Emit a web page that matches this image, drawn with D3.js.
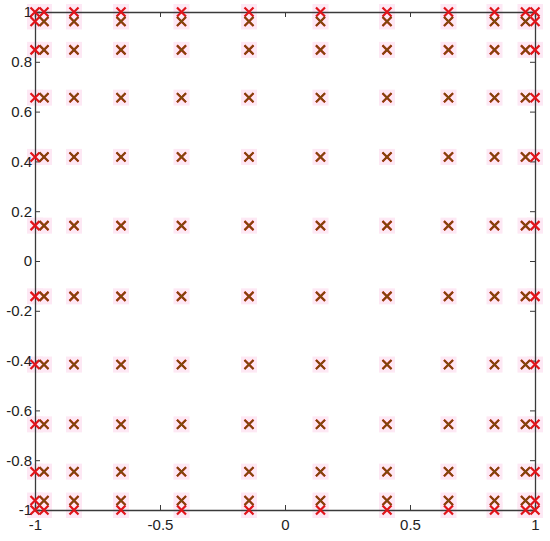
<!DOCTYPE html>
<html><head><meta charset="utf-8">
<script src="https://cdn.jsdelivr.net/npm/d3@7/dist/d3.min.js"></script>
<style>body{margin:0;background:#fff}svg{display:block}</style>
</head><body>
<script>
const nodesX = [-1, -0.964, -0.844, -0.656, -0.414, -0.144, 0.142, 0.408, 0.654, 0.838, 0.962, 1];
const nodesY = [-1, -0.962, -0.846, -0.656, -0.416, -0.142, 0.142, 0.418, 0.656, 0.848, 0.962, 1];
const xTicks = [-1, -0.5, 0, 0.5, 1];
const yTicks = [-1, -0.8, -0.6, -0.4, -0.2, 0, 0.2, 0.4, 0.6, 0.8, 1];

const W = 550, H = 541;
const m = {l: 35, r: 15, t: 12, b: 31};
const svg = d3.select("body").append("svg").attr("width", W).attr("height", H);
const x = d3.scaleLinear().domain([-1, 1]).range([m.l, W - m.r]);
const y = d3.scaleLinear().domain([-1, 1]).range([H - m.b, m.t]);

const pts = [];
nodesX.forEach(a => nodesY.forEach(b => pts.push([a, b])));

// pink halos
svg.append("g").selectAll("rect").data(pts).join("rect")
  .attr("x", d => x(d[0]) - 8).attr("y", d => y(d[1]) - 8)
  .attr("width", 16).attr("height", 16).attr("fill", "#fde8f4");

const axisColor = "#3a3a3a";
const font = "Liberation Sans, Arial, sans-serif";
const fmt = d => String(d).replace("-", "-");

const gx = svg.append("g").attr("transform", `translate(0,${H - m.b})`)
  .call(d3.axisBottom(x).tickValues(xTicks).tickSize(-5).tickPadding(9).tickFormat(fmt));
const gxt = svg.append("g").attr("transform", `translate(0,${m.t})`)
  .call(d3.axisTop(x).tickValues(xTicks).tickSize(-5).tickFormat(""));
const gy = svg.append("g").attr("transform", `translate(${m.l},0)`)
  .call(d3.axisLeft(y).tickValues(yTicks).tickSize(-5).tickPadding(3).tickFormat(fmt));
const gyr = svg.append("g").attr("transform", `translate(${W - m.r},0)`)
  .call(d3.axisRight(y).tickValues(yTicks).tickSize(-5).tickFormat(""));
[gx, gxt, gy, gyr].forEach(g => {
  g.select(".domain").attr("stroke", axisColor).attr("stroke-width", 1.3);
  g.selectAll(".tick line").attr("stroke", axisColor);
  g.selectAll("text").attr("fill", "#222").style("font-family", font).style("font-size", "15px");
});

const isB = d => Math.abs(d[0]) === 1 || Math.abs(d[1]) === 1;
const s = 4.5;
const cross = d => `M${x(d[0]) - s},${y(d[1]) - s}L${x(d[0]) + s},${y(d[1]) + s}M${x(d[0]) - s},${y(d[1]) + s}L${x(d[0]) + s},${y(d[1]) - s}`;
svg.append("g").selectAll("path").data(pts).join("path")
  .attr("d", cross).attr("stroke", "#e0141a").attr("stroke-width", 2.2).attr("fill", "none");
svg.append("g").selectAll("path").data(pts.filter(d => !isB(d))).join("path")
  .attr("d", cross).attr("stroke", "#7a4a0c").attr("stroke-width", 1.8).attr("fill", "none");
</script>
</body></html>
